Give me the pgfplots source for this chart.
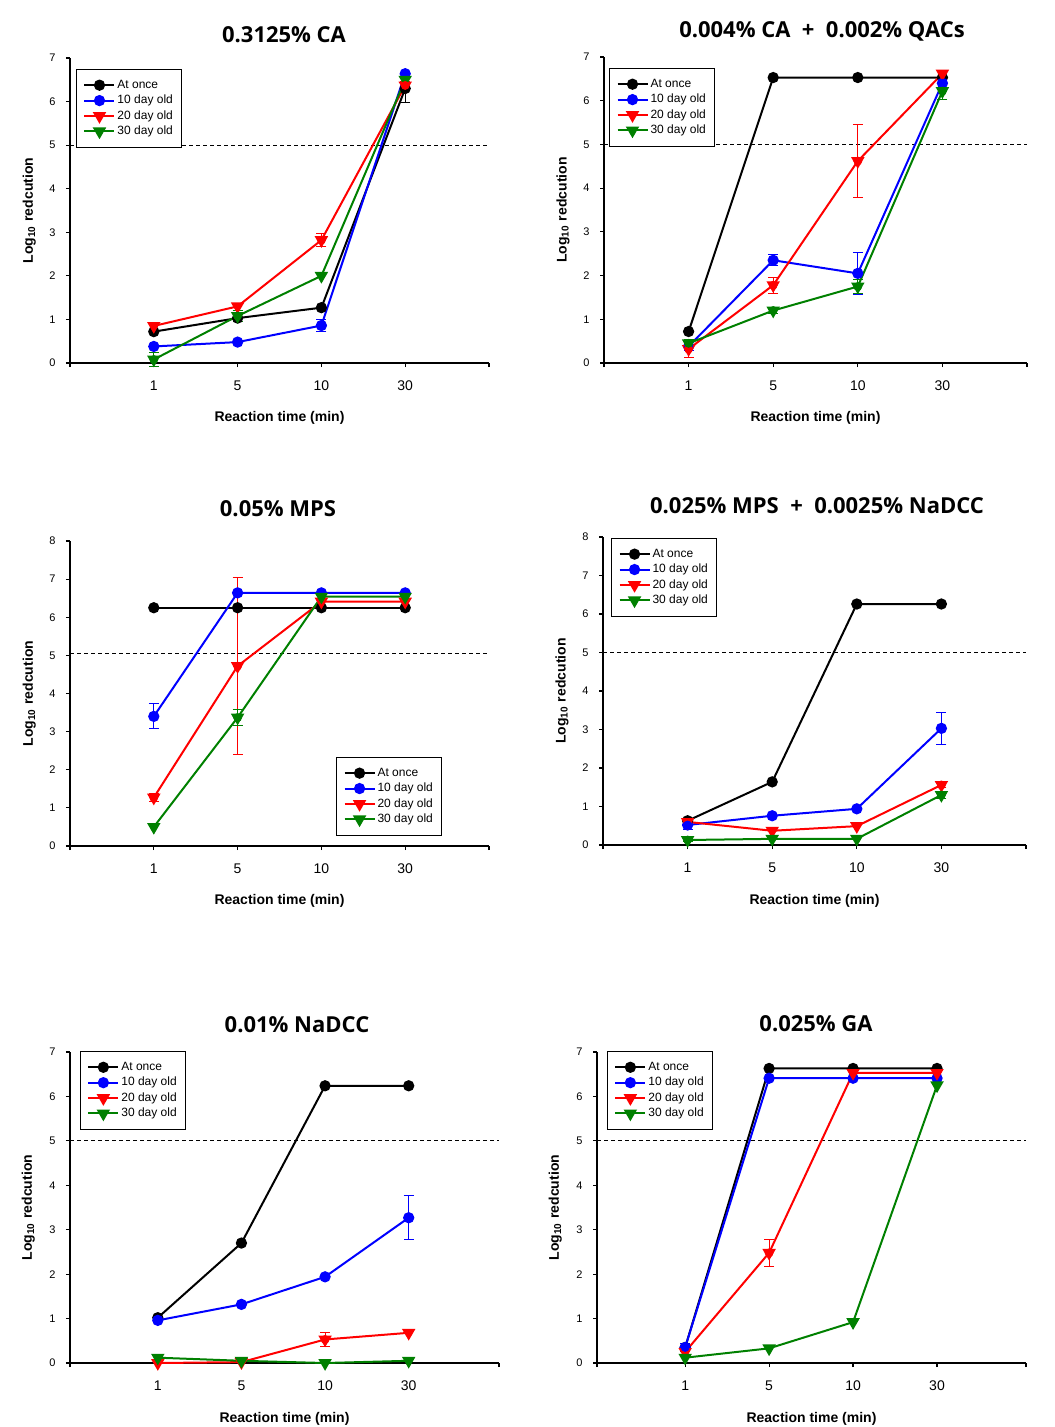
\documentclass[border=0pt]{standalone}
\usepackage{fontspec}
\setmainfont{Liberation Sans}
\newfontfamily\titlefont{Open Sans}
\usepackage{pgfplots}
\pgfplotsset{compat=1.18}
\definecolor{sgreen}{RGB}{0,128,0}
\definecolor{sblue}{RGB}{0,0,255}
\definecolor{sred}{RGB}{255,0,0}

\pgfplotsset{
  panel/.style={
    scale only axis,
    axis lines*=left,
    axis line style={line width=0.6pt},
    tick align=outside,
    major tick length=2pt,
    tick style={line width=0.6pt, black},
    xmin=-1, xmax=4, ymin=0,
    xtick={0,1,2,3}, xticklabels={1,5,10,30},
    extra x tick labels={},
    xticklabel style={font=\fontsize{7}{8}\selectfont, anchor=center, yshift=-9.25pt},
    yticklabel style={font=\fontsize{5.5}{6}\selectfont, anchor=center, xshift=-6.75pt},
    /pgf/number format/assume math mode=true,
    clip=false,
    xlabel={Reaction time (min)},
    ylabel={Log\textsubscript{10} redcution},
    xlabel style={font=\bfseries\fontsize{7}{8}\selectfont, at={(axis description cs:0.5,-0.18)}, anchor=center},
    ylabel style={font=\bfseries\fontsize{7}{8}\selectfont, at={(axis description cs:-0.097,0.5)}, anchor=center},
    legend style={font=\fontsize{6}{7}\selectfont, draw=black, line width=0.5pt,
      inner xsep=3.5pt, inner ysep=4pt, row sep=0pt,
      nodes={inner sep=1pt, text height=4.5pt, text depth=1.2pt},
      anchor=north west},
    legend cell align=left,
    legend image code/.code={\draw[mark repeat=2,mark phase=2,##1] plot coordinates {(0pt,0pt) (7.5pt,0pt) (15pt,0pt)};},
  },
  s0/.style={black, line width=1pt, mark=*, mark size=2.3pt, mark options={solid, fill=black}},
  s1/.style={sblue, line width=1pt, mark=*, mark size=2.3pt, mark options={solid, fill=sblue}},
  s2/.style={sred, line width=1pt, mark=triangle*, mark size=2.9pt, mark options={solid, rotate=180, fill=sred}},
  s3/.style={sgreen, line width=1pt, mark=triangle*, mark size=2.9pt, mark options={solid, rotate=180, fill=sgreen}},
  eb/.style={#1, only marks, mark=none, forget plot,
    error bars/.cd, y dir=both, y explicit,
    error bar style={line width=0.5pt, #1},
    error mark options={rotate=90, line width=0.5pt, mark size=2.5pt, #1}},
  thr/.style={black, line width=0.6pt, dash pattern=on 2pt off 1.5pt, forget plot},
}

\begin{document}
\begin{tikzpicture}
\useasboundingbox (0,0) rectangle (527pt,-713.5pt);

% Titles
\node[font=\titlefont\bfseries\fontsize{11}{13}\selectfont] at (142pt,-17.2pt) {0.3125\% CA};
\node[font=\titlefont\bfseries\fontsize{11}{13}\selectfont] at (411pt,-15.5pt) {0.004\% CA~~+~~0.002\% QACs};
\node[font=\titlefont\bfseries\fontsize{11}{13}\selectfont] at (139pt,-254.5pt) {0.05\% MPS};
\node[font=\titlefont\bfseries\fontsize{11}{13}\selectfont] at (408.5pt,-253pt) {0.025\% MPS~~+~~0.0025\% NaDCC};
\node[font=\titlefont\bfseries\fontsize{11}{13}\selectfont] at (148.5pt,-512.5pt) {0.01\% NaDCC};
\node[font=\titlefont\bfseries\fontsize{11}{13}\selectfont] at (408pt,-512pt) {0.025\% GA};

% Panel 1
\begin{axis}[panel, at={(35pt,-181.5pt)}, anchor=south west, width=209.5pt, height=152.5pt,
  ymax=7, ytick={0,...,7}, extra x ticks={-1,4},
  legend style={at={(0.0143,0.964)}}]
\addplot[thr] coordinates {(-1,5) (4,5)};
\addplot[s0] coordinates {(0,0.72) (1,1.03) (2,1.27) (3,6.30)};
\addplot[s1] coordinates {(0,0.38) (1,0.48) (2,0.86) (3,6.64)};
\addplot[s2] coordinates {(0,0.85) (1,1.30) (2,2.82) (3,6.37)};
\addplot[s3] coordinates {(0,0.08) (1,1.08) (2,2.00) (3,6.50)};
\addplot[eb=black] coordinates {(3,6.30) +- (0,0.33)};
\addplot[eb=sblue] coordinates {(2,0.86) +- (0,0.14)};
\addplot[eb=sred] coordinates {(2,2.82) +- (0,0.15) (3,6.37) +- (0,0.1)};
\addplot[eb=sgreen] coordinates {(0,0.08) +- (0,0.15) (1,1.08) +- (0,0.13)};
\legend{At once, 10 day old, 20 day old, 30 day old}
\end{axis}

% Panel 2
\begin{axis}[panel, at={(302pt,-181.5pt)}, anchor=south west, width=211.5pt, height=153pt,
  ymax=7, ytick={0,...,7}, extra x ticks={-1,4},
  legend style={at={(0.0118,0.964)}}]
\addplot[thr] coordinates {(-1,5) (4,5)};
\addplot[s0] coordinates {(0,0.72) (1,6.53) (2,6.53) (3,6.53)};
\addplot[s1] coordinates {(0,0.38) (1,2.35) (2,2.05) (3,6.40)};
\addplot[s2] coordinates {(0,0.32) (1,1.78) (2,4.62) (3,6.62)};
\addplot[s3] coordinates {(0,0.45) (1,1.20) (2,1.75) (3,6.22)};
\addplot[eb=sblue] coordinates {(0,0.38) +- (0,0.1) (1,2.35) +- (0,0.13) (2,2.05) +- (0,0.48) (3,6.40) +- (0,0.1)};
\addplot[eb=sred] coordinates {(0,0.32) +- (0,0.2) (1,1.78) +- (0,0.18) (2,4.62) +- (0,0.83)};
\addplot[eb=sgreen] coordinates {(0,0.45) +- (0,0.08) (1,1.20) +- (0,0.07) (2,1.75) +- (0,0.15) (3,6.22) +- (0,0.2)};
\legend{At once, 10 day old, 20 day old, 30 day old}
\end{axis}

% Panel 3
\begin{axis}[panel, at={(35pt,-423pt)}, anchor=south west, width=209.5pt, height=152.5pt,
  ymax=8, ytick={0,...,8}, extra x ticks={-1,4},
  legend style={at={(0.635,0.292)}}]
\addplot[thr] coordinates {(-1,5.05) (4,5.05)};
\addplot[s0] coordinates {(0,6.25) (1,6.25) (2,6.25) (3,6.25)};
\addplot[s1] coordinates {(0,3.40) (1,6.64) (2,6.64) (3,6.64)};
\addplot[s2] coordinates {(0,1.27) (1,4.72) (2,6.41) (3,6.41)};
\addplot[s3] coordinates {(0,0.50) (1,3.37) (2,6.54) (3,6.54)};
\addplot[eb=sblue] coordinates {(0,3.40) +- (0,0.33)};
\addplot[eb=sred] coordinates {(0,1.27) +- (0,0.1) (1,4.72) +- (0,2.33)};
\addplot[eb=sgreen] coordinates {(1,3.37) +- (0,0.2)};
\legend{At once, 10 day old, 20 day old, 30 day old}
\end{axis}

% Panel 4
\begin{axis}[panel, at={(301.5pt,-422.5pt)}, anchor=south west, width=211.5pt, height=154pt,
  ymax=8, ytick={0,...,8}, extra x ticks={-1,4},
  legend style={at={(0.019,0.997)}}]
\addplot[thr] coordinates {(-1,5) (4,5)};
\addplot[s0] coordinates {(0,0.63) (1,1.64) (2,6.26) (3,6.26)};
\addplot[s1] coordinates {(0,0.52) (1,0.76) (2,0.94) (3,3.03)};
\addplot[s2] coordinates {(0,0.60) (1,0.37) (2,0.49) (3,1.56)};
\addplot[s3] coordinates {(0,0.13) (1,0.16) (2,0.16) (3,1.30)};
\addplot[eb=sblue] coordinates {(0,0.52) +- (0,0.12) (3,3.03) +- (0,0.42)};
\addplot[eb=sred] coordinates {(3,1.56) +- (0,0.07)};
\addplot[eb=sgreen] coordinates {(0,0.13) +- (0,0.05) (3,1.30) +- (0,0.1)};
\legend{At once, 10 day old, 20 day old, 30 day old}
\end{axis}

% Panel 5
\begin{axis}[panel, at={(35pt,-681.5pt)}, anchor=south west, width=214.5pt, height=155.5pt,
  xmin=-1.05, xmax=4.08, ymax=7, ytick={0,...,7}, extra x ticks={-1.05,4.08},
  legend style={at={(0.023,1.003)}}]
\addplot[thr] coordinates {(-1.05,5) (4.08,5)};
\addplot[s0] coordinates {(0,1.02) (1,2.70) (2,6.24) (3,6.24)};
\addplot[s1] coordinates {(0,0.96) (1,1.32) (2,1.94) (3,3.27)};
\addplot[s2] coordinates {(0,0.00) (1,0.02) (2,0.53) (3,0.68)};
\addplot[s3] coordinates {(0,0.12) (1,0.05) (2,0.00) (3,0.05)};
\addplot[eb=sblue] coordinates {(3,3.27) +- (0,0.5)};
\addplot[eb=sred] coordinates {(2,0.53) +- (0,0.15)};
\legend{At once, 10 day old, 20 day old, 30 day old}
\end{axis}

% Panel 6
\begin{axis}[panel, at={(298.5pt,-681.5pt)}, anchor=south west, width=214.5pt, height=155.5pt,
  xmin=-1.05, xmax=4.06, ymax=7, ytick={0,...,7}, extra x ticks={-1.05,4.06},
  legend style={at={(0.023,1.003)}}]
\addplot[thr] coordinates {(-1.05,5) (4.06,5)};
\addplot[s0] coordinates {(0,0.35) (1,6.63) (2,6.63) (3,6.63)};
\addplot[s1] coordinates {(0,0.35) (1,6.41) (2,6.41) (3,6.41)};
\addplot[s2] coordinates {(0,0.25) (1,2.48) (2,6.53) (3,6.53)};
\addplot[s3] coordinates {(0,0.12) (1,0.33) (2,0.92) (3,6.25)};
\addplot[eb=sblue] coordinates {(0,0.35) +- (0,0.1)};
\addplot[eb=sred] coordinates {(1,2.48) +- (0,0.3)};
\legend{At once, 10 day old, 20 day old, 30 day old}
\end{axis}
\end{tikzpicture}
\end{document}
